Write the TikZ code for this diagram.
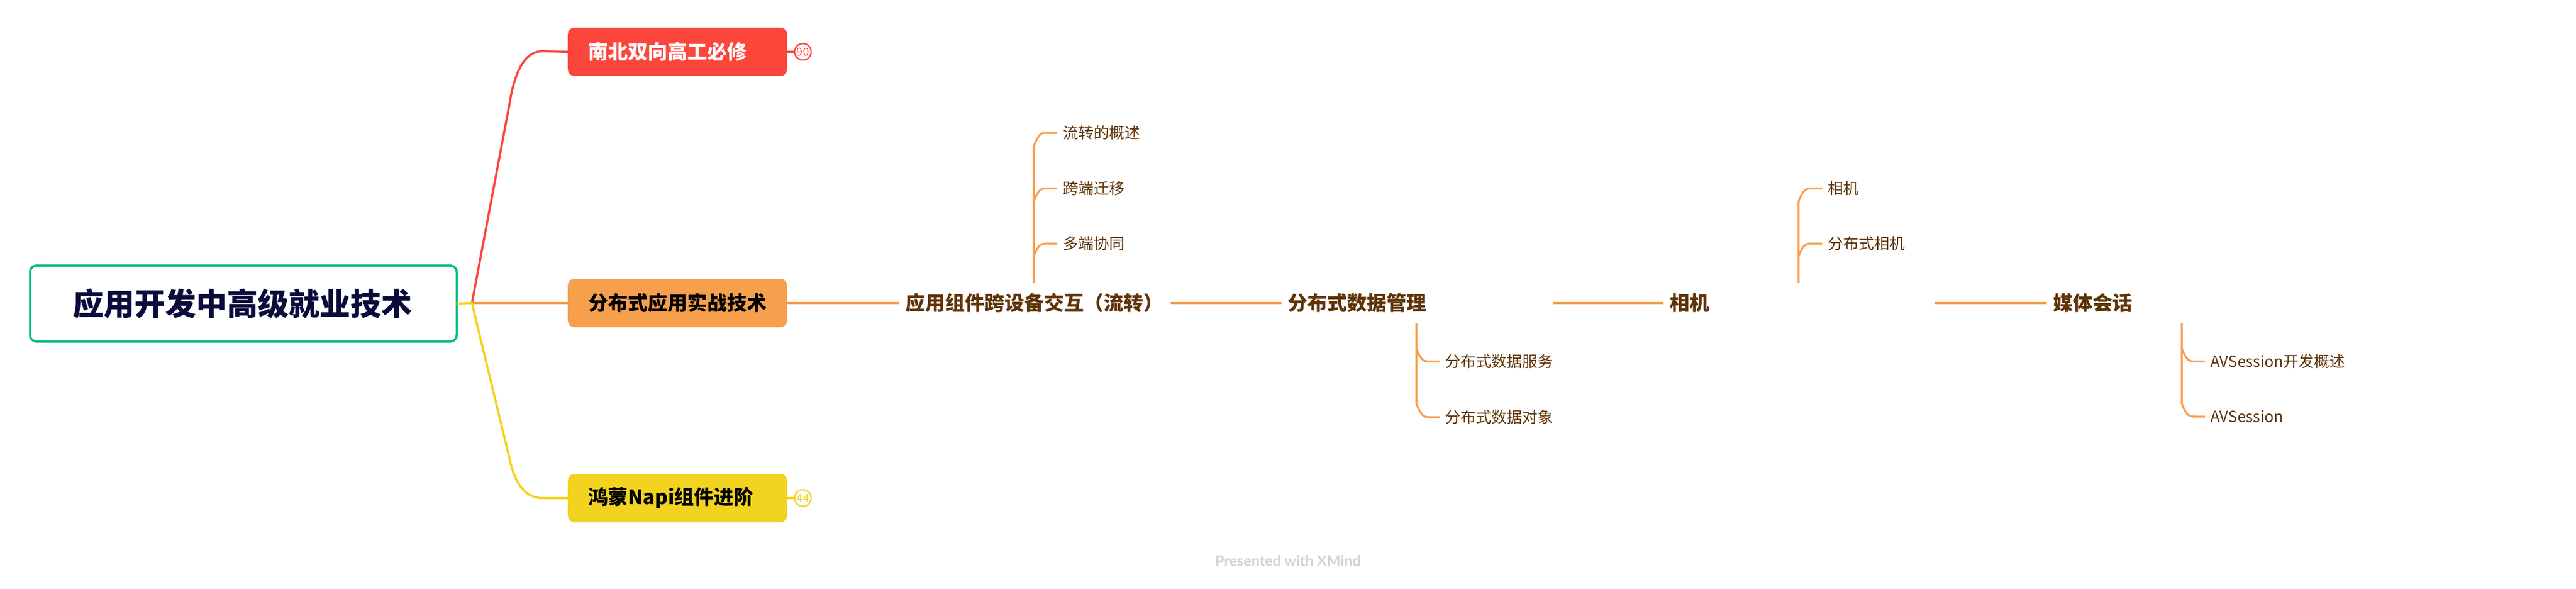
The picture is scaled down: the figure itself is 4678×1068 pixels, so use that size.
\documentclass[tikz,border=0pt]{standalone}
\usepackage{fontspec}
\setmainfont{Noto Sans CJK SC}
\newfontfamily\wmfont{Lato}
\definecolor{cred}{HTML}{FC463C}
\definecolor{corange}{HTML}{F69F4D}
\definecolor{cyellow}{HTML}{F2D31F}
\definecolor{cgreen}{HTML}{00BC7B}
\definecolor{cnavy}{HTML}{0B0B3B}
\definecolor{cbrown}{HTML}{5F3308}
\definecolor{cgrey}{HTML}{D2D2D2}
\tikzset{
  rootbox/.style={draw=cgreen,line width=4pt,fill=white,rounded corners=12pt,minimum width=775pt,minimum height=138pt,text=cnavy,font=\fontsize{56}{60}\selectfont\bfseries,inner sep=0pt,outer sep=0pt,anchor=center},
  mainbox/.style={rounded corners=12pt,fill=#1,minimum height=88pt,text width=324pt,inner xsep=37pt,inner ysep=0pt,align=left,anchor=west,font=\fontsize{36}{40}\selectfont\bfseries},
  topicbox/.style={text=cbrown,text width=471pt,inner xsep=11pt,inner ysep=0pt,align=left,anchor=west,font=\fontsize{36}{40}\selectfont\bfseries},
  leafbox/.style={text=cbrown,inner xsep=10pt,inner ysep=0pt,anchor=west,font=\fontsize{28}{32}\selectfont},
  badge/.style={circle,draw=#1,text=#1,fill=white,line width=2.5pt,minimum size=30pt,inner sep=0pt,font=\fontsize{20}{22}\selectfont},
  linkline/.style={draw=#1,line width=4pt},
  subline/.style={draw=corange,line width=3.5pt},
  watermark/.style={text=cgrey,font=\wmfont\bfseries\fontsize{26.5}{30}\selectfont,inner sep=0pt}
}
\begin{document}
\begin{tikzpicture}[x=1pt,y=-1pt]
\useasboundingbox (0,0) rectangle (4678,1068);
% nodes
\node[rootbox] (root) at (442,551) {\raisebox{1pt}{\hspace*{-3pt}应用开发中高级就业技术}};
\coordinate (hub) at (857,550);
\node[mainbox=cred,text=white] (red) at (1031,94) {南北双向高工必修};
\node[mainbox=corange,text=black] (orange) at (1031,550) {分布式应用实战技术};
\node[mainbox=cyellow,text=black] (yellow) at (1031,904) {鸿蒙Napi组件进阶};
\node[badge=cred] (b90) at (1458,94) {90};
\node[badge=cyellow] (b44) at (1458,904) {44};
\node[topicbox] (t1) at (1633,550) {应用组件跨设备交互（流转）};
\node[topicbox] (t2) at (2327,550) {分布式数据管理};
\node[topicbox] (t3) at (3021,550) {相机};
\node[topicbox] (t4) at (3717,550) {媒体会话};
\node[leafbox] (a1) at (1920,241) {\raisebox{-2pt}{流转的概述}};
\node[leafbox] (a2) at (1920,342) {\raisebox{-1pt}{跨端迁移}};
\node[leafbox] (a3) at (1920,442) {\raisebox{-1pt}{多端协同}};
\node[leafbox] (c1) at (2614,656) {分布式数据服务};
\node[leafbox] (c2) at (2614,757) {分布式数据对象};
\node[leafbox] (d1) at (3309,342) {相机};
\node[leafbox] (d2) at (3309,442) {分布式相机};
\node[leafbox] (e1) at (4004,656) {AVSession开发概述};
\node[leafbox] (e2) at (4004,756) {AVSession};
\node[watermark] (wm) at (2339,1018) {Presented with XMind};
% root links
\draw[linkline=corange] (hub) -- (orange.west);
\draw[linkline=cred] (hub) -- (925,190) .. controls (935,125) and (955,93) .. (985,93) -- (red.west);
\draw[linkline=cyellow] (root.east) -- (hub) -- (925,831) .. controls (935,880) and (955,904) .. (985,904) -- (yellow.west);
% chain
\draw[linkline=corange] (orange.east) -- (t1.west);
\draw[linkline=corange] (t1.east) -- (t2.west);
\draw[linkline=corange] (t2.east) -- (t3.west);
\draw[linkline=corange] (t3.east) -- (t4.west);
\draw[linkline=cred] (red.east) -- (b90.west);
\draw[linkline=cyellow] (yellow.east) -- (b44.west);
% t1 children
\coordinate (av) at (1877,514);
\draw[subline] (av) -- (1877,267) .. controls (1884,248) and (1888,241) .. (1899,241) -- (a1.west);
\draw[subline] (1877,367) .. controls (1884,348) and (1888,342) .. (1899,342) -- (a2.west);
\draw[subline] (1877,466) .. controls (1884,448) and (1888,442) .. (1899,442) -- (a3.west);
% t2 children
\coordinate (cv) at (2572,587);
\draw[subline] (cv) -- (2572,732) .. controls (2579,750) and (2583,757) .. (2594,757) -- (c2.west);
\draw[subline] (2572,632) .. controls (2579,650) and (2583,656) .. (2594,656) -- (c1.west);
% t3 children
\coordinate (dv) at (3266,513);
\draw[subline] (dv) -- (3266,366) .. controls (3273,348) and (3277,342) .. (3288,342) -- (d1.west);
\draw[subline] (3266,466) .. controls (3273,448) and (3277,442) .. (3288,442) -- (d2.west);
% t4 children
\coordinate (ev) at (3962,586);
\draw[subline] (ev) -- (3962,732) .. controls (3969,750) and (3973,756) .. (3984,756) -- (e2.west);
\draw[subline] (3962,632) .. controls (3969,650) and (3973,656) .. (3984,656) -- (e1.west);
\end{tikzpicture}
\end{document}
